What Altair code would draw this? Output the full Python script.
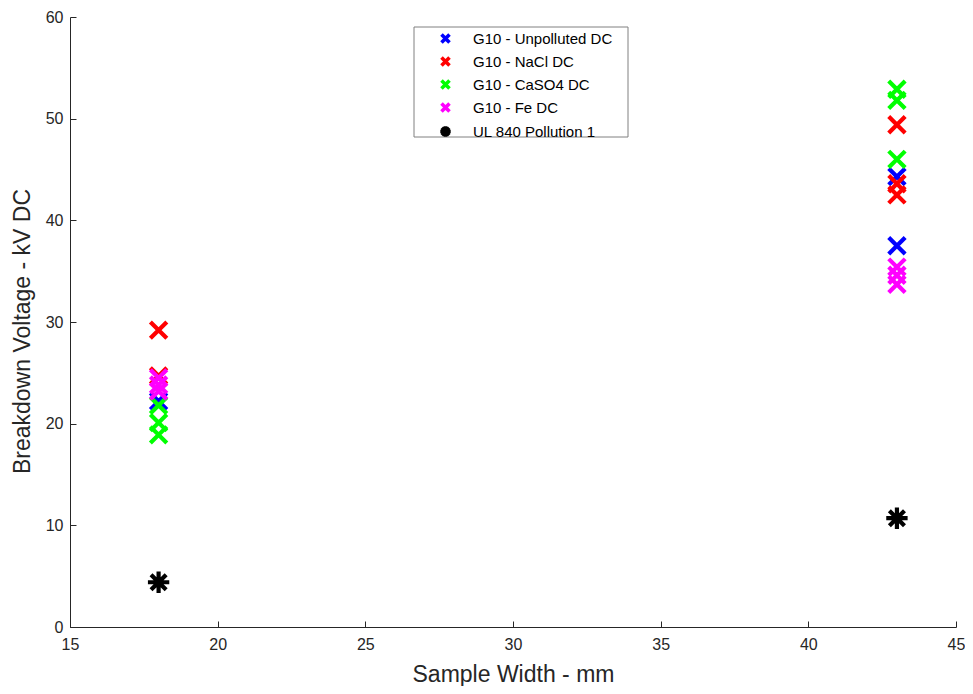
import altair as alt
import pandas as pd

# ---- data ----
series_names = ["G10 - Unpolluted DC", "G10 - NaCl DC", "G10 - CaSO4 DC", "G10 - Fe DC", "UL 840 Pollution 1"]
series_colors = ["#0000FF", "#FF0000", "#00FF00", "#FF00FF", "#000000"]

unpolluted_x = [18, 43, 43]
unpolluted_y = [22.2, 44.3, 37.5]
nacl_x = [18, 18, 43, 43, 43]
nacl_y = [29.2, 24.7, 49.4, 43.6, 42.5]
caso4_x = [18, 18, 18, 43, 43, 43]
caso4_y = [21.8, 20.1, 18.9, 52.9, 51.8, 46.0]
fe_x = [18, 18, 18, 43, 43, 43]
fe_y = [24.5, 23.8, 23.2, 35.4, 34.6, 33.7]
ul_x = [18, 43]
ul_y = [4.4, 10.7]

x_ticks = [15, 20, 25, 30, 35, 40, 45]
y_ticks = [0, 10, 20, 30, 40, 50, 60]

X_PATH = "M-1,-1L1,1M-1,1L1,-1"
STAR_PATH = ("M-1.3,0L1.3,0M0,-1.3L0,1.3"
             "M-0.92,-0.92L0.92,0.92M-0.92,0.92L0.92,-0.92")
BIG_CIRCLE = "M1.45,0A1.45,1.45,0,1,1,-1.45,0A1.45,1.45,0,1,1,1.45,0Z"

rows = []
for name, xs, ys in zip(series_names,
                        [unpolluted_x, nacl_x, caso4_x, fe_x, ul_x],
                        [unpolluted_y, nacl_y, caso4_y, fe_y, ul_y]):
    for xv, yv in zip(xs, ys):
        rows.append({"series": name, "width": xv, "voltage": yv})
df = pd.DataFrame(rows)

W, H = 886, 610
FONT = "Liberation Sans"
TXT = "#262626"

xscale = alt.Scale(domain=[15, 45], nice=False, zero=False)
yscale = alt.Scale(domain=[0, 60], nice=False, zero=False)

COND = "datum.value === 'UL 840 Pollution 1'"
ENC_A = {
    "symbols": {
        "shape": {"value": {"expr": f"{COND} ? '{BIG_CIRCLE}' : '{X_PATH}'"}},
        "fill": {"value": {"expr": f"{COND} ? '#000000' : 'transparent'"}},
        "size": {"value": 64},
        "strokeWidth": {"value": 3.6},
    }
}

# legend box (decoration) and legend placement, relative to the plot area
LEG_X, LEG_Y, LEG_W, LEG_H = 344, 10, 214, 110


def make_chart(enc, row_pad, clip):
    legend_kwargs = dict(
        title=None, orient="none", legendX=LEG_X, legendY=LEG_Y,
        padding=4, rowPadding=row_pad, symbolOffset=20, labelOffset=20,
        labelFontSize=15, labelFont=FONT, labelColor="#000000",
        symbolStrokeWidth=3.6, symbolSize=64, strokeColor="transparent",
    )
    if clip is not None:
        legend_kwargs["clipHeight"] = clip
    if enc is not None:
        legend_kwargs["encode"] = enc
    leg = alt.Legend(**legend_kwargs)

    box = alt.Chart(pd.DataFrame({"k": [0]})).mark_rect(
        fill="white", stroke="#808080", strokeWidth=1
    ).encode(x=alt.value(LEG_X), x2=alt.value(LEG_X + LEG_W),
             y=alt.value(LEG_Y), y2=alt.value(LEG_Y + LEG_H))

    points = alt.Chart(df).mark_point(filled=False, strokeWidth=4.2, opacity=1, size=270).encode(
        x=alt.X("width:Q", scale=xscale, axis=alt.Axis(
            orient="bottom", values=x_ticks, ticks=False, grid=False, labelFlush=False,
            title="Sample Width - mm", labelPadding=9, titlePadding=11,
            domainColor=TXT, labelColor=TXT, titleColor=TXT,
            labelFont=FONT, labelFontSize=16, titleFont=FONT, titleFontSize=23,
            titleFontWeight="normal")),
        y=alt.Y("voltage:Q", scale=yscale, axis=alt.Axis(
            orient="left", values=y_ticks, ticks=False, grid=False, labelFlush=False,
            title="Breakdown Voltage - kV DC", labelPadding=7, titlePadding=11,
            titleY=314,
            domainColor=TXT, labelColor=TXT, titleColor=TXT,
            labelFont=FONT, labelFontSize=16, titleFont=FONT, titleFontSize=23,
            titleFontWeight="normal")),
        color=alt.Color("series:N", scale=alt.Scale(domain=series_names, range=series_colors), legend=leg),
        shape=alt.Shape("series:N", scale=alt.Scale(domain=series_names, range=[X_PATH] * 4 + [STAR_PATH]), legend=leg),
    )

    ticks = alt.Chart(df).mark_point(opacity=0, size=1).encode(
        x=alt.X("width:Q", scale=xscale, axis=alt.Axis(
            orient="top", offset=-H, values=x_ticks, labels=False, domain=False,
            ticks=True, tickSize=6, tickColor=TXT, grid=False, title=None)),
        y=alt.Y("voltage:Q", scale=yscale, axis=alt.Axis(
            orient="right", offset=-W, values=y_ticks, labels=False, domain=False,
            ticks=True, tickSize=6, tickColor=TXT, grid=False, title=None)),
    )

    chart = alt.layer(box, points, ticks).resolve_axis(
        x="independent", y="independent"
    ).properties(
        width=W, height=H,
        autosize=alt.AutoSizeParams(type="none"),
        padding={"left": 62, "top": 9, "right": 9, "bottom": 59},
        background="white",
    ).configure_view(strokeWidth=0)
    return chart


chart = None
for enc, rp, clip in ((ENC_A, 7, 15), (ENC_A, 0, None), (None, 0, None)):
    try:
        c = make_chart(enc, rp, clip)
        c.to_dict()
        chart = c
        break
    except Exception:
        continue

chart.save("out.html", embed_options={"renderer": "svg", "actions": False})
